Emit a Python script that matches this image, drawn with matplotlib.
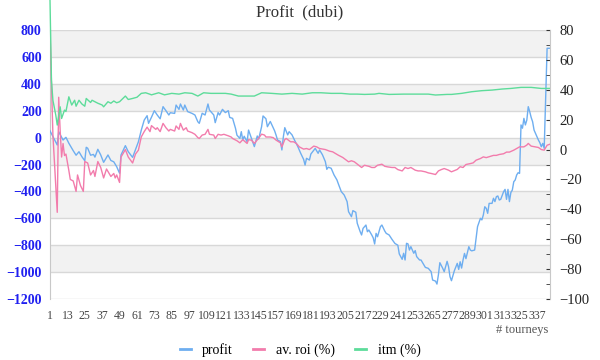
import matplotlib
matplotlib.use("Agg")
import matplotlib.pyplot as plt
from matplotlib.lines import Line2D
from matplotlib.ticker import MultipleLocator

# profit (left axis)
profit_t = [1, 6, 7, 10, 12, 14, 17, 19, 21, 23, 25, 26, 27, 29, 31, 32, 34, 36, 38, 41,
            43, 45, 47, 49, 50, 53, 55, 58, 60, 62, 64, 66, 68, 69, 71, 73, 75, 77, 79, 81,
            83, 84, 87, 88, 90, 91, 93, 94, 96, 99, 101, 103, 104, 106, 108, 110, 111, 114, 115, 117,
            118, 120, 122, 124, 125, 127, 129, 130, 132, 133, 134, 135, 137, 138, 140, 142, 144, 145, 147, 148,
            150, 151, 153, 154, 156, 157, 158, 160, 161, 162, 163, 165, 166, 168, 170, 172, 174, 176, 177, 178,
            180, 181, 184, 186, 187, 189, 191, 192, 193, 195, 197, 199, 200, 202, 204, 206, 207, 209, 210, 212,
            213, 215, 216, 217, 219, 220, 221, 223, 224, 225, 226, 227, 229, 230, 232, 233, 235, 237, 239, 241,
            242, 244, 245, 246, 247, 248, 249, 250, 252, 253, 254, 256, 257, 259, 260, 262, 264, 265, 267, 268,
            269, 270, 272, 273, 275, 276, 277, 278, 280, 282, 283, 284, 285, 286, 287, 288, 290, 291, 292, 294,
            295, 296, 298, 299, 300, 301, 302, 303, 304, 306, 307, 308, 309, 310, 311, 312, 314, 315, 316, 317,
            318, 319, 320, 321, 322, 323, 324, 325, 326, 327, 328, 329, 330, 331, 332, 333, 334, 335, 337, 338,
            339, 340, 341, 342, 344, 346]
profit = [50, -55, 44, -18, 2, -42, -97, -131, -105, -142, -172, -72, -79, -131, -125, -145, -87, -129, -184, -129,
          -170, -180, -216, -265, -129, -60, -105, -147, -90, -31, 56, 130, 163, 106, 151, 200, 168, 140, 230, 200,
          168, 185, 180, 242, 210, 250, 205, 242, 193, 180, 168, 118, 106, 181, 168, 250, 205, 168, 111, 186,
          168, 210, 186, 200, 150, 143, 69, 18, -6, 44, -18, 10, -31, 56, -5, -67, 12, -10, 81, 161,
          140, 81, 120, 96, 50, 18, -18, -30, -92, 5, 74, 20, 44, 20, -25, -67, -117, -162, -204, -154,
          -167, -122, -80, -117, -92, -128, -179, -236, -220, -228, -278, -315, -345, -402, -427, -476, -551, -588, -543, -555,
          -637, -699, -724, -675, -650, -700, -687, -724, -745, -791, -712, -737, -662, -650, -695, -712, -724, -757, -787, -800,
          -865, -905, -860, -910, -786, -790, -836, -811, -860, -840, -885, -910, -910, -947, -965, -972, -997, -1059, -1067, -1089,
          -1020, -930, -972, -997, -920, -960, -1034, -1064, -990, -935, -980, -923, -970, -910, -861, -900, -811, -836, -842, -836,
          -749, -662, -600, -612, -575, -514, -526, -563, -489, -489, -451, -476, -439, -434, -464, -459, -402, -385, -459, -385,
          -476, -408, -390, -328, -315, -278, -261, -266, 94, 70, 143, 94, 130, 230, 193, 150, 118, 56, 6, -18,
          -38, -68, -43, -80, 664, 664]

# av. roi (%) (right axis)
roi_t = [1, 3, 6, 7, 8, 9, 10, 11, 12, 14, 15, 17, 19, 20, 22, 24, 25, 27, 29, 31,
         32, 34, 36, 38, 40, 43, 45, 46, 47, 49, 50, 53, 55, 58, 60, 62, 64, 66, 68, 70,
         71, 74, 75, 77, 79, 81, 83, 84, 87, 88, 90, 91, 93, 95, 96, 99, 101, 103, 104, 106,
         108, 110, 111, 114, 115, 117, 119, 121, 124, 126, 127, 130, 132, 134, 137, 138, 140, 142, 145, 147,
         149, 150, 153, 155, 157, 160, 161, 163, 164, 167, 169, 171, 173, 176, 178, 180, 183, 185, 187, 191,
         194, 196, 200, 203, 207, 209, 211, 214, 216, 218, 221, 223, 225, 227, 230, 232, 234, 237, 239, 241,
         244, 246, 248, 250, 253, 255, 257, 260, 262, 264, 267, 269, 271, 273, 276, 278, 282, 284, 286, 288,
         291, 293, 295, 298, 300, 302, 305, 307, 309, 311, 314, 316, 318, 321, 323, 325, 328, 330, 331, 333,
         336, 338, 340, 342, 344, 346]
roi = [80, 10, -42, 35, 13, -5, 4, -4, -3, -14, -20, -21, -28, -17, -24, -28, -8, -9, -17, -14,
       -18, -8, -12, -19, -13, -18, -16, -19, -17, -22, -5, 0, -5, -9, -3, -0.4, 8.5, 12, 15, 12,
       16, 13.5, 14.6, 12, 17.5, 14.6, 12.4, 13.5, 12.4, 15.8, 13.5, 17.5, 13, 14.6, 12.4, 11.3, 10.2, 8, 7.4, 9.7,
       10.2, 13.5, 10.2, 9.7, 7.4, 10.2, 9.7, 10.2, 9.2, 8.4, 7.4, 5.9, 4.5, 6.6, 4.1, 6.6, 6.3, 4.1, 7.6, 10.3,
       9.7, 8.4, 8.4, 8, 6.3, 4.5, 1.8, 6.7, 7.4, 5.2, 5.2, 4.1, 1.8, 0.3, 0.7, 0, 2.3, 1.8, 0.7, 0,
       -1.1, -1.5, -3.8, -5.3, -8.2, -7.5, -8.2, -10.5, -12, -10.5, -11.2, -12, -12, -10.5, -9.8, -11.2, -11.6, -12, -12, -13.4,
       -14.3, -12, -12.7, -12, -13.8, -14.3, -14.3, -14.9, -15.6, -16, -16.7, -14.3, -13.4, -12.7, -13.8, -14.9, -13.3, -11.5, -12, -10,
       -9.4, -8.9, -7.1, -6, -4.9, -5.4, -4.5, -3.9, -3.9, -3.3, -2.8, -1.7, -1.7, -0.4, 0.7, 1.8, 1.8, 3, 4.1, 2.3,
       1.8, 1.4, 0, -0.4, 2.9, 3.6]

# itm (%) (right axis)
itm_t = [1, 2, 3, 5, 6, 8, 9, 11, 12, 14, 16, 18, 19, 21, 23, 25, 26, 29, 30, 32,
         34, 37, 38, 41, 43, 45, 47, 49, 53, 55, 58, 61, 64, 67, 70, 71, 76, 80, 85, 90,
         94, 99, 103, 107, 112, 117, 122, 126, 131, 135, 142, 147, 154, 161, 168, 175, 182, 188, 195, 202,
         208, 213, 218, 225, 228, 235, 245, 253, 262, 267, 275, 278, 285, 292, 299, 306, 313, 319, 326, 333,
         340, 346]
itm = [100, 46.5, 33, 23, 16.4, 28.6, 20.8, 26.4, 25.5, 35.3, 29.8, 33, 29, 33, 30.5, 29, 34.2, 31.5, 33, 32,
       31, 29.8, 28.6, 32, 31, 32.5, 31.3, 32, 35.8, 33.5, 34.2, 35, 37.6, 38, 37, 36.6, 38, 36.6, 37.6, 37.1,
       38, 37.6, 35.8, 38, 37.6, 37.6, 37.6, 37.1, 35.8, 35.8, 35.8, 38, 37.6, 37.1, 37.6, 37.1, 38, 38, 37.6, 37.6,
       37.1, 37.1, 36.9, 37.1, 37.6, 36.9, 37.1, 37.1, 37.1, 36.5, 36.9, 36.9, 37.6, 38.7, 39.4, 39.8, 40.5, 40.9, 41.6, 41.6,
       40.9, 40.9]

x_ticks = list(range(1, 338, 12))

plt.rcParams['font.family'] = ['Liberation Serif', 'DejaVu Serif']

c_profit = '#6eaef0'
c_roi = '#f27cac'
c_itm = '#5ddc9a'

fig = plt.figure(figsize=(6, 3.6), dpi=100)
ax = fig.add_axes([50 / 600, 61 / 360, 500 / 600, 269 / 360])
ax2 = ax.twinx()

# alternating bands + grid, aligned with the left axis
for lo in range(-1000, 800, 400):
    ax.axhspan(lo, lo + 200, color='#f2f2f2', lw=0, zorder=0)
for v in range(-1200, 801, 200):
    ax.axhline(v, color='#d8d8d8', lw=1, zorder=0.5)

ax.plot(profit_t, profit, color=c_profit, lw=1, zorder=3)
ax2.plot(roi_t, roi, color=c_roi, lw=1)
ax2.plot(itm_t, itm, color=c_itm, lw=1, clip_on=False)

ax.set_xlim(1, 346)
ax.set_ylim(-1200, 800)
ax2.set_ylim(-100, 80)

ax.set_yticks(range(-1200, 801, 200))
ax.tick_params(axis='y', length=0, labelcolor='#2020f0', labelsize=10, pad=6)
for lab in ax.get_yticklabels():
    lab.set_fontweight('bold')

ax2.set_yticks(range(-100, 81, 20))
ax2.yaxis.set_minor_locator(MultipleLocator(10))
ax2.tick_params(axis='y', which='both', direction='in', length=3, color='#333333',
                labelcolor='#222222', labelsize=10.5, pad=7)

ax.set_xticks(x_ticks)
ax.set_xticklabels([str(t) for t in x_ticks])
ax.tick_params(axis='x', length=0, labelsize=8.5, labelcolor='#444444', pad=8)

for s in ['top', 'right', 'bottom']:
    ax.spines[s].set_visible(False)
ax.spines['left'].set_color('#c8c8c8')
for s in ['top', 'left', 'bottom']:
    ax2.spines[s].set_visible(False)
ax2.spines['right'].set_color('#c8c8c8')

fig.text(0.5, 1 - 12 / 360, 'Profit  (dubi)', ha='center', va='center', fontsize=12, color='#333333')
fig.text(548 / 600, 1 - 330 / 360, '# tourneys', ha='right', va='center', fontsize=9, color='#555555')

handles = [Line2D([], [], color=c_profit, lw=2),
           Line2D([], [], color=c_roi, lw=2),
           Line2D([], [], color=c_itm, lw=2)]
fig.legend(handles, ['profit', 'av. roi (%)', 'itm (%)'], loc='center',
           bbox_to_anchor=(0.5, 1 - 350 / 360), ncol=3, frameon=False, fontsize=10,
           handlelength=0.8, columnspacing=1.5, handletextpad=0.8)

fig.savefig('out.png', dpi=100)
